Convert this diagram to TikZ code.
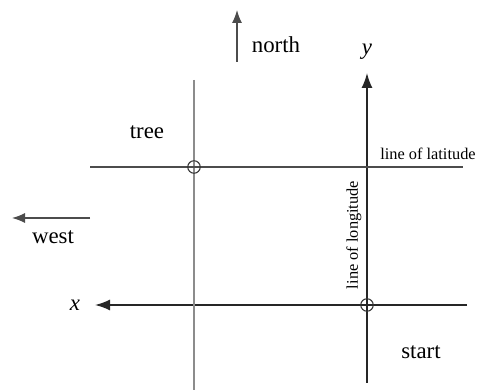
\documentclass[tikz,border=0pt]{standalone}
\usepackage{fontspec}
\setmainfont{Liberation Serif}
\usepackage{tikz}
\usetikzlibrary{arrows.meta}

\begin{document}
\begin{tikzpicture}[
  lbl/.style={font=\fontsize{13}{15}\selectfont, inner sep=1pt},
  small/.style={font=\fontsize{9.3}{11}\selectfont, inner sep=1pt},
  axis/.style={-{Latex[length=3mm,width=2.2mm]}, line width=0.9pt, black!85},
  dir/.style={-{Latex[length=2.6mm,width=2mm]}, line width=0.7pt, black!70},
  grid/.style={line width=0.6pt, black!70},
  tline/.style={line width=0.6pt, black!45},
  spot/.style={circle, draw, line width=0.6pt, black!80, minimum size=2.5mm, inner sep=0pt}
]
\useasboundingbox (0,0) rectangle (9.64,7.8);
% compass hints
\coordinate (Nfrom) at (4.74,6.56);
\coordinate (Nto) at (4.74,7.6);
\coordinate (Wfrom) at (1.8,3.44);
\coordinate (Wto) at (0.24,3.44);
\draw[dir] (Nfrom) -- (Nto);
\draw[dir] (Wfrom) -- (Wto);
\node[lbl] (north) at (5.52,6.9) {north};
\node[lbl] (west) at (1.06,3.06) {west};
% axes
\coordinate (Ybot) at (7.34,0.14);
\coordinate (Ytop) at (7.34,6.34);
\coordinate (Xright) at (9.34,1.7);
\coordinate (Xleft) at (1.9,1.7);
\draw[axis] (Ybot) -- (Ytop);
\draw[axis] (Xright) -- (Xleft);
\node[lbl, font=\fontsize{13}{15}\selectfont\itshape] (ylab) at (7.34,6.76) {y};
\node[lbl, font=\fontsize{13}{15}\selectfont\itshape] (xlab) at (1.5,1.7) {x};
% latitude and tree
\coordinate (Lwest) at (1.8,4.46);
\coordinate (Least) at (9.26,4.46);
\coordinate (Ttop) at (3.88,6.2);
\coordinate (Tbot) at (3.88,0);
\draw[tline] (Ttop) -- (Tbot);
\draw[grid] (Lwest) -- (Least);
\node[spot] (tree) at (3.88,4.46) {};
\node[spot] (start) at (7.34,1.7) {};
\node[lbl] (treelab) at (2.94,5.16) {tree};
\node[lbl] (startlab) at (8.42,0.76) {start};
\node[small] (lat) at (8.56,4.72) {line of latitude};
\node[small, rotate=90] (long) at (7.08,3.1) {line of longitude};
\end{tikzpicture}
\end{document}
